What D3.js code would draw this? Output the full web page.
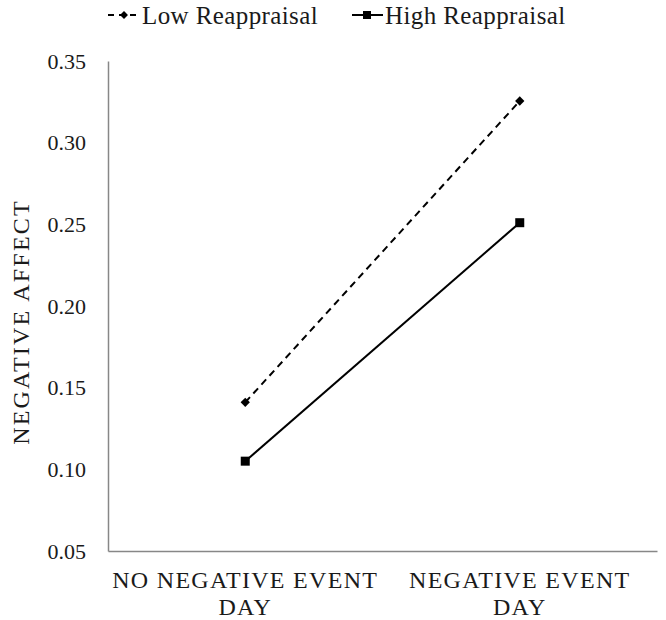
<!DOCTYPE html>
<html><head><meta charset="utf-8">
<script src="https://cdn.jsdelivr.net/npm/d3@7"></script>
<style>body{margin:0;background:#fff}svg{display:block}text{font-family:"Liberation Serif","Times New Roman",serif;fill:#1a1a1a}</style>
</head><body>
<svg id="c" width="666" height="620"></svg>
<script>
const categories = ["NO NEGATIVE EVENT|DAY", "NEGATIVE EVENT|DAY"];
const seriesNames = ["Low Reappraisal", "High Reappraisal"];
const lowValues = [0.141, 0.3255];
const highValues = [0.105, 0.251];
const yTicks = [0.05, 0.10, 0.15, 0.20, 0.25, 0.30, 0.35];

const svg = d3.select("#c");
const m = {left:108, right:657, top:61, bottom:551};
const x = d3.scaleBand().domain(categories).range([m.left, m.right]);
const y = d3.scaleLinear().domain([0.05, 0.35]).range([m.bottom, m.top]);
const cx = d => x(d) + x.bandwidth()/2;
const FF = "Liberation Serif";

// y axis
const ya = svg.append("g").attr("transform", `translate(${m.left},0)`)
  .call(d3.axisLeft(y).tickValues(yTicks).tickFormat(d3.format(".2f")).tickSize(0).tickPadding(22));
ya.select(".domain").attr("stroke", "#878787").attr("stroke-width", 1.5);
ya.selectAll("text").attr("font-size", 22).attr("font-family", FF).attr("fill", "#1a1a1a");

// x axis
const xa = svg.append("g").attr("transform", `translate(0,${m.bottom})`)
  .call(d3.axisBottom(x).tickSize(0).tickFormat(""));
xa.select(".domain").attr("stroke", "#878787").attr("stroke-width", 1.5);
xa.selectAll(".tick").each(function(d){
  const parts = d.split("|");
  const t = d3.select(this).append("text").attr("font-size", 24).attr("text-anchor", "middle")
    .attr("fill", "#1a1a1a").attr("font-family", FF).attr("letter-spacing", "1.3px");
  parts.forEach((p,i)=>t.append("tspan").attr("x",0).attr("y", 37 + i*27).text(p));
});

// y title
svg.append("text").attr("transform", `translate(29,322) rotate(-90)`)
  .attr("text-anchor","middle").attr("font-size",24).attr("letter-spacing","2.2px").text("NEGATIVE AFFECT");

const line = d3.line().x((d,i)=>cx(categories[i])).y(d=>y(d));
// Low (dashed, diamond)
svg.append("path").datum(lowValues).attr("d", line).attr("fill","none")
  .attr("stroke","#000").attr("stroke-width",2).attr("stroke-dasharray","7,5");
svg.selectAll(".dia").data(lowValues).enter().append("path")
  .attr("d", d3.symbol(d3.symbolDiamond2, 55)).attr("fill","#000")
  .attr("transform",(d,i)=>`translate(${cx(categories[i])},${y(d)})`);
// High (solid, square)
svg.append("path").datum(highValues).attr("d", line).attr("fill","none")
  .attr("stroke","#000").attr("stroke-width",2);
svg.selectAll(".sq").data(highValues).enter().append("rect")
  .attr("x",(d,i)=>cx(categories[i])-4.5).attr("y",d=>y(d)-4.5).attr("width",9).attr("height",9).attr("fill","#000");

// legend
const l1 = svg.append("g").attr("transform","translate(108,15)");
l1.append("line").attr("x1",0).attr("x2",32).attr("y1",0).attr("y2",0).attr("stroke","#000").attr("stroke-width",2).attr("stroke-dasharray","6,5");
l1.append("path").attr("d", d3.symbol(d3.symbolDiamond2, 40)).attr("transform","translate(16,0)").attr("fill","#000");
l1.append("text").attr("x",34).attr("y",9).attr("font-size",25).attr("letter-spacing","0.4px").text(seriesNames[0]);
const l2 = svg.append("g").attr("transform","translate(352,15)");
l2.append("line").attr("x1",0).attr("x2",31).attr("y1",0).attr("y2",0).attr("stroke","#000").attr("stroke-width",2);
l2.append("rect").attr("x",11).attr("y",-4).attr("width",8).attr("height",8).attr("fill","#000");
l2.append("text").attr("x",33).attr("y",9).attr("font-size",25).attr("letter-spacing","0.4px").text(seriesNames[1]);
</script>
</body></html>
